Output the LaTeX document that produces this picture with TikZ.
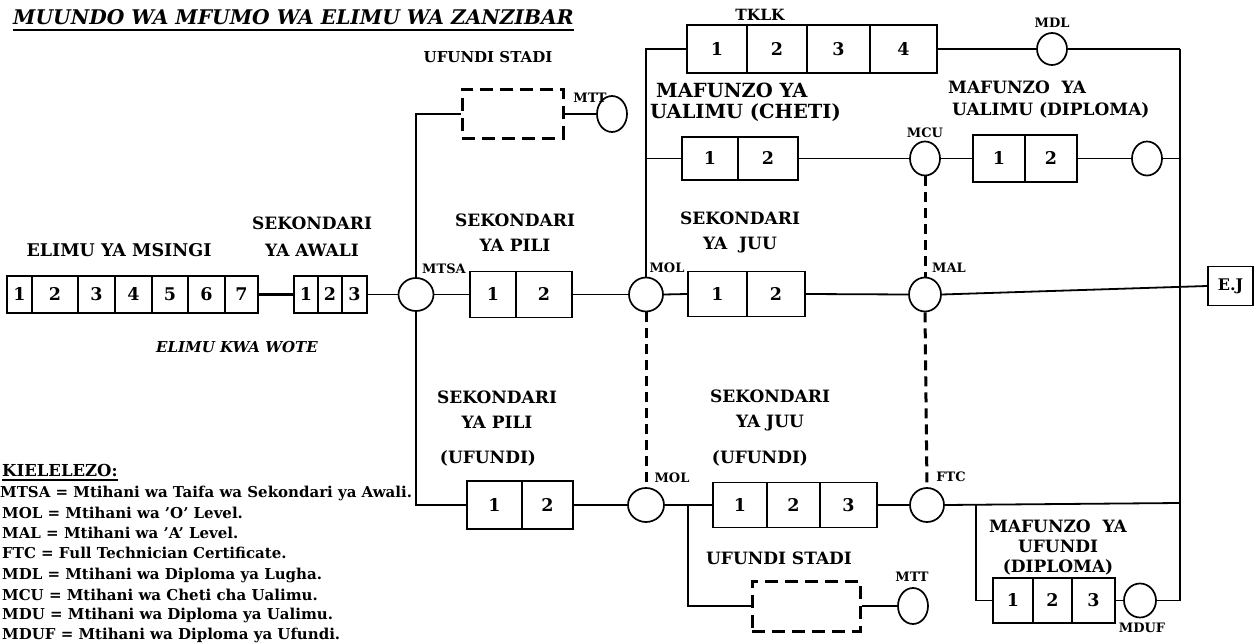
\documentclass[tikz,border=0pt]{standalone}
\usepackage{fontspec}
\setmainfont{DejaVu Serif}
\usetikzlibrary{shapes.geometric,calc}
\begin{document}
\begin{tikzpicture}[x=1pt,y=-1pt,
  conn/.style={line width=1.8pt},
  thickconn/.style={line width=3.2pt},
  dconn/.style={line width=3pt, dash pattern=on 10pt off 6pt},
  cell/.style={draw, line width=1.7pt, inner sep=0pt, font=\fontsize{17.5}{17.5}\selectfont\bfseries},
  exam/.style={draw, ellipse, line width=1.7pt, inner sep=0pt, minimum width=32pt, minimum height=34pt},
  dbox/.style={draw, line width=3pt, dash pattern=on 13pt off 7pt, inner sep=0pt},
  lbl/.style={font=\fontsize{17}{25}\selectfont\bfseries, inner sep=0pt, align=center},
  small/.style={font=\fontsize{13}{13}\selectfont\bfseries, inner sep=0pt},
  legend/.style={font=\fontsize{15}{15}\selectfont\bfseries, inner sep=0pt, anchor=west}]
\fill[white] (0,0) rectangle (1256,644);
\useasboundingbox (0,0) rectangle (1256,644);

% ---- title
\node[anchor=base west, inner sep=0pt, font=\fontsize{20.2}{21}\selectfont\bfseries\itshape] (title) at (13,25) {MUUNDO WA MFUMO WA ELIMU WA ZANZIBAR};
\draw[line width=1.7pt] ($(title.base west)+(0,5)$) -- ($(title.base east)+(0,5)$);

% ---- primary (msingi)
\node[cell, minimum width=25pt, minimum height=37pt] (m1) at (19.5,294.5) {1};
\node[cell, minimum width=46pt, minimum height=37pt] (m2) at (55,294.5) {2};
\node[cell, minimum width=37pt, minimum height=37pt] (m3) at (96.5,294.5) {3};
\node[cell, minimum width=37pt, minimum height=37pt] (m4) at (133.5,294.5) {4};
\node[cell, minimum width=36pt, minimum height=37pt] (m5) at (170,294.5) {5};
\node[cell, minimum width=37pt, minimum height=37pt] (m6) at (206.5,294.5) {6};
\node[cell, minimum width=33pt, minimum height=37pt] (m7) at (241.5,294.5) {7};
% ---- awali
\node[cell, minimum width=24pt, minimum height=37pt] (a1) at (306,294.5) {1};
\node[cell, minimum width=24pt, minimum height=37pt] (a2) at (330,294.5) {2};
\node[cell, minimum width=25pt, minimum height=37pt] (a3) at (354.5,294.5) {3};
\draw[thickconn] (m7.east) -- (a1.west);

\node[exam, minimum width=35pt, minimum height=33pt] (mtsa) at (416,294.5) {};
\draw[conn] (a3.east) -- (mtsa.west);

% ---- sekondari ya pili
\node[cell, minimum width=46pt, minimum height=46pt] (p1) at (493,294.5) {1};
\node[cell, minimum width=56pt, minimum height=46pt] (p2) at (544,294.5) {2};
\draw[conn] (mtsa.east) -- (p1.west);
\node[exam, minimum width=34pt] (mol) at (646,294.5) {};
\draw[conn] (p2.east) -- (mol.west);

% ---- sekondari ya juu
\node[cell, minimum width=59pt, minimum height=45pt] (j1) at (717.5,294) {1};
\node[cell, minimum width=58pt, minimum height=45pt] (j2) at (776,294) {2};
\draw[conn] (mol.east) -- (j1.west);
\node[exam] (mal) at (925,294.5) {};
\draw[conn] (j2.east) -- (mal.west);
\node[cell, minimum width=45pt, minimum height=39pt, font=\fontsize{16}{16}\selectfont\bfseries] (ej) at (1230.5,286) {E.J};
\draw[conn] (mal.east) -- (ej.west);

% ---- left vertical with ufundi stadi (top)
\coordinate (ltop) at (416,114);
\coordinate (lbot) at (416,505);
\node[dbox, minimum width=101pt, minimum height=49pt] (ds1) at (512.5,114) {};
\node[exam, minimum width=30pt, minimum height=36pt] (mtt1) at (612,114) {};
\draw[conn] (mtsa.north) -- (ltop) -- (ds1.west);
\draw[conn] (ds1.east) -- (mtt1.west);

% ---- TKLK and ualimu branches
\coordinate (mtop) at (646,49);
\coordinate (mch) at (646,158.5);
\node[cell, minimum width=60pt, minimum height=48pt] (t1) at (717,49) {1};
\node[cell, minimum width=60pt, minimum height=48pt] (t2) at (777,49) {2};
\node[cell, minimum width=63pt, minimum height=48pt] (t3) at (838.5,49) {3};
\node[cell, minimum width=67pt, minimum height=48pt] (t4) at (903.5,49) {4};
\draw[conn] (mol.north) -- (mtop) -- (t1.west);
\node[exam, minimum width=30pt, minimum height=32pt] (mdl) at (1052,49) {};
\draw[conn] (t4.east) -- (mdl.west);
\coordinate (rv1) at (1180,49);
\draw[conn] (mdl.east) -- (rv1);

\node[cell, minimum width=56pt, minimum height=43pt] (c1) at (710,158.5) {1};
\node[cell, minimum width=60pt, minimum height=43pt] (c2) at (768,158.5) {2};
\draw[conn] (mch) -- (c1.west);
\node[exam, minimum width=30pt] (mcu) at (925,158.5) {};
\draw[conn] (c2.east) -- (mcu.west);
\node[cell, minimum width=52pt, minimum height=47pt] (d1) at (999,158.5) {1};
\node[cell, minimum width=52pt, minimum height=47pt] (d2) at (1051,158.5) {2};
\draw[conn] (mcu.east) -- (d1.west);
\node[exam, minimum width=30pt] (mdu) at (1147,158.5) {};
\draw[conn] (d2.east) -- (mdu.west);
\coordinate (rv2) at (1180,158.5);
\draw[conn] (mdu.east) -- (rv2);

% ---- bottom (ufundi) row
\node[cell, minimum width=55pt, minimum height=48pt] (pu1) at (494.5,505) {1};
\node[cell, minimum width=51pt, minimum height=48pt] (pu2) at (547.5,505) {2};
\draw[conn] (mtsa.south) -- (lbot) -- (pu1.west);
\node[exam, minimum width=36pt] (molb) at (646,505) {};
\draw[conn] (pu2.east) -- (molb.west);
\node[cell, minimum width=54pt, minimum height=45pt] (ju1) at (740,505) {1};
\node[cell, minimum width=53pt, minimum height=45pt] (ju2) at (793.5,505) {2};
\node[cell, minimum width=57pt, minimum height=45pt] (ju3) at (848.5,505) {3};
\draw[conn] (molb.east) -- (ju1.west);
\coordinate (br1) at (688,505);
\node[dbox, minimum width=108pt, minimum height=50pt] (ds2) at (806,606) {};
\draw[conn] (br1) |- (ds2.west);
\node[exam, minimum width=30pt, minimum height=36pt] (mtt2) at (913,606) {};
\draw[conn] (ds2.east) -- (mtt2.west);
\node[exam, minimum width=34pt] (ftc) at (927,505) {};
\draw[conn] (ju3.east) -- (ftc.west);
\coordinate (rv4) at (1180,503);
\draw[conn] (ftc.east) -- (rv4);
\coordinate (br2) at (976,504);
\node[cell, minimum width=40pt, minimum height=45pt] (du1) at (1013,600.5) {1};
\node[cell, minimum width=39pt, minimum height=45pt] (du2) at (1052.5,600.5) {2};
\node[cell, minimum width=43pt, minimum height=45pt] (du3) at (1093.5,600.5) {3};
\draw[conn] (br2) |- (du1.west);
\node[exam, minimum width=32pt] (mduf) at (1140,600.5) {};
\draw[conn] (du3.east) -- (mduf.west);
\coordinate (rv5) at (1180,600.5);
\draw[conn] (mduf.east) -- (rv5);
\draw[conn] (rv1) -- (rv5);

% ---- dashed exam links
\draw[dconn] (mol.south) -- (molb.north);
\draw[dconn] (mcu.south) -- (mal.north);
\draw[dconn] (mal.south) -- (ftc.north);

% ---- labels
\node[lbl, font=\fontsize{15}{15}\selectfont\bfseries] (lufs1) at (488,57) {UFUNDI STADI};
\node[lbl, font=\fontsize{15.5}{15.5}\selectfont\bfseries] (ltklk) at (760,15) {TKLK};
\node[lbl, anchor=west, font=\fontsize{19.5}{19.5}\selectfont\bfseries] (lmc1) at (656,90) {MAFUNZO YA};
\node[lbl, anchor=west, font=\fontsize{19.5}{19.5}\selectfont\bfseries] (lmc2) at (650,113) {UALIMU (CHETI)};
\node[lbl, anchor=west] (lmd1) at (948,87) {MAFUNZO\ \ YA};
\node[lbl, anchor=west] (lmd2) at (952,110) {UALIMU (DIPLOMA)};
\node[lbl, font=\fontsize{17.5}{17.5}\selectfont\bfseries] (lmsingi) at (119,250) {ELIMU YA MSINGI};
\node[lbl, font=\fontsize{17}{27}\selectfont\bfseries] (lawali) at (312,236.5) {SEKONDARI\\YA AWALI};
\node[lbl] (lpili) at (515,232.5) {SEKONDARI\\YA PILI};
\node[lbl] (ljuu) at (740,232.5) {SEKONDARI\\YA\ \ JUU};
\node[lbl, font=\fontsize{15}{15}\selectfont\bfseries\itshape] (lwote) at (237,347) {ELIMU KWA WOTE};
\node[lbl] (lpiliu) at (497,410) {SEKONDARI\\YA PILI};
\node[lbl] (lpiliu2) at (488,458) {(UFUNDI)};
\node[lbl] (ljuuu) at (770,410) {SEKONDARI\\YA JUU};
\node[lbl] (ljuuu2) at (760,458) {(UFUNDI)};
\node[lbl] (lufs2) at (779,558) {UFUNDI STADI};
\node[lbl, font=\fontsize{17}{20}\selectfont\bfseries] (lmu) at (1058,548) {MAFUNZO\ \ YA\\UFUNDI\\(DIPLOMA)};

\node[small] (smtsa) at (444,269) {MTSA};
\node[small] (smol) at (667,268) {MOL};
\node[small] (smal) at (949,268) {MAL};
\node[small] (smcu) at (925,133) {MCU};
\node[small] (smdl) at (1052,23) {MDL};
\node[small] (smtt1) at (590,98) {MTT};
\node[small] (smolb) at (672,478) {MOL};
\node[small] (sftc) at (951,477) {FTC};
\node[small] (smtt2) at (912,577) {MTT};
\node[small] (smduf) at (1142,628) {MDUF};

% ---- legend
\node[anchor=base west, inner sep=0pt, font=\fontsize{16.5}{16.5}\selectfont\bfseries] (kiel) at (2,476) {KIELELEZO:};
\draw[line width=1.4pt] ($(kiel.base west)+(0,4)$) -- ($(kiel.base east)+(0,4)$);
\node[legend] (g1) at (0,493) {MTSA = Mtihani wa Taifa wa Sekondari ya Awali.};
\node[legend] (g2) at (2,513) {MOL = Mtihani wa 'O' Level.};
\node[legend] (g3) at (2,533) {MAL = Mtihani wa 'A' Level.};
\node[legend] (g4) at (2,553) {FTC = Full Technician Certificate.};
\node[legend] (g5) at (2,575) {MDL = Mtihani wa Diploma ya Lugha.};
\node[legend] (g6) at (2,595) {MCU = Mtihani wa Cheti cha Ualimu.};
\node[legend] (g7) at (2,615) {MDU = Mtihani wa Diploma ya Ualimu.};
\node[legend] (g8) at (2,635) {MDUF = Mtihani wa Diploma ya Ufundi.};
\end{tikzpicture}
\end{document}
